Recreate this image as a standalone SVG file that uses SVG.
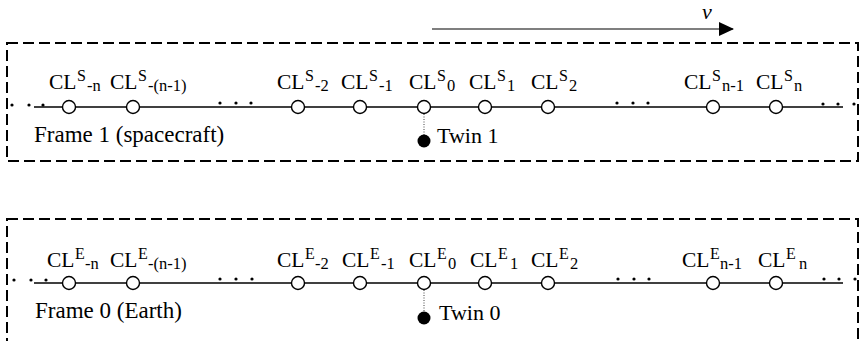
<svg xmlns="http://www.w3.org/2000/svg" width="861" height="341" viewBox="0 0 861 341">
<style>
text { font-family: "Liberation Serif", "Times New Roman", serif; fill: #000; }
.lbl { font-size: 21.5px; }
.sup { font-size: 16px; }
.sub { font-size: 16.5px; }
.cap { font-size: 23px; }
.twt { font-size: 22px; }
.frame { fill: none; stroke: #000; stroke-width: 2; stroke-dasharray: 11 5; }
.axis { stroke: #000; stroke-width: 1.3; fill: none; }
.clock { fill: #fff; stroke: #000; stroke-width: 1.4; }
.dot { fill: #000; }
.twin { fill: #000; }
.tie { stroke: #444; stroke-width: 1; stroke-dasharray: 1 1.5; fill: none; }
.vel { stroke: #555; stroke-width: 1.5; fill: none; }
</style>
<defs>
<marker id="ah" markerWidth="15" markerHeight="14" refX="14" refY="7" orient="auto" markerUnits="userSpaceOnUse">
<path d="M0,0 L15,7 L0,14 Z" fill="#000"/>
</marker>
</defs>

<g id="velocity">
<text x="702" y="19" class="twt" font-style="italic">v</text>
</g>

<g id="frame1">
<rect class="frame" x="7" y="43" width="851" height="118"/>
<text class="cap" x="34" y="142">Frame 1 (spacecraft)</text>
</g>
<g id="frame0">
<rect class="frame" x="7" y="219" width="851" height="150"/>
<text class="cap" x="35" y="317.5">Frame 0 (Earth)</text>
</g>

<g id="connectors">
<line class="vel" x1="432" y1="29" x2="733" y2="29" marker-end="url(#ah)"/>
<line class="axis" x1="34" y1="107" x2="843" y2="107"/>
<line class="axis" x1="34" y1="283" x2="843" y2="283"/>
<line class="tie" x1="424" y1="114" x2="424" y2="135"/>
<line class="tie" x1="424" y1="290" x2="424" y2="312"/>
</g>

<g id="dots-top">
<circle class="dot" cx="12" cy="105" r="1.6"/><circle class="dot" cx="29" cy="105" r="1.6"/><circle class="dot" cx="43" cy="105" r="1.6"/>
<circle class="dot" cx="220" cy="103" r="1.6"/><circle class="dot" cx="236" cy="103" r="1.6"/><circle class="dot" cx="251" cy="103" r="1.6"/>
<circle class="dot" cx="617" cy="103" r="1.6"/><circle class="dot" cx="633" cy="103" r="1.6"/><circle class="dot" cx="648" cy="103" r="1.6"/>
<circle class="dot" cx="823" cy="104" r="1.6"/><circle class="dot" cx="838" cy="104" r="1.6"/><circle class="dot" cx="854" cy="104" r="1.6"/>
</g>
<g id="dots-bottom">
<circle class="dot" cx="14" cy="280" r="1.6"/><circle class="dot" cx="31" cy="280" r="1.6"/><circle class="dot" cx="46" cy="280" r="1.6"/>
<circle class="dot" cx="220" cy="279" r="1.6"/><circle class="dot" cx="236" cy="279" r="1.6"/><circle class="dot" cx="252" cy="279" r="1.6"/>
<circle class="dot" cx="618" cy="279" r="1.6"/><circle class="dot" cx="634" cy="279" r="1.6"/><circle class="dot" cx="649" cy="279" r="1.6"/>
<circle class="dot" cx="824" cy="279" r="1.6"/><circle class="dot" cx="839" cy="279" r="1.6"/><circle class="dot" cx="855" cy="279" r="1.6"/>
</g>

<g id="CLS-n"><circle class="clock" cx="69" cy="107" r="6.5"/><text class="lbl" y="89"><tspan x="49">CL</tspan><tspan class="sup" x="77" dy="-8">S</tspan><tspan class="sub" x="87" dy="10">-n</tspan></text></g>
<g id="CLS-n1"><circle class="clock" cx="133" cy="107" r="6.5"/><text class="lbl" y="89"><tspan x="110">CL</tspan><tspan class="sup" x="138" dy="-8">S</tspan><tspan class="sub" x="148" dy="10">-(n-1)</tspan></text></g>
<g id="CLS-2"><circle class="clock" cx="298" cy="107" r="6.5"/><text class="lbl" y="89"><tspan x="277">CL</tspan><tspan class="sup" x="305" dy="-8">S</tspan><tspan class="sub" x="315" dy="10">-2</tspan></text></g>
<g id="CLS-1"><circle class="clock" cx="360" cy="107" r="6.5"/><text class="lbl" y="89"><tspan x="341">CL</tspan><tspan class="sup" x="369" dy="-8">S</tspan><tspan class="sub" x="379" dy="10">-1</tspan></text></g>
<g id="CLS0"><circle class="clock" cx="424" cy="107" r="6.5"/><text class="lbl" y="89"><tspan x="409">CL</tspan><tspan class="sup" x="437" dy="-8">S</tspan><tspan class="sub" x="447" dy="10">0</tspan></text></g>
<g id="CLS1"><circle class="clock" cx="485" cy="107" r="6.5"/><text class="lbl" y="89"><tspan x="469">CL</tspan><tspan class="sup" x="497" dy="-8">S</tspan><tspan class="sub" x="507" dy="10">1</tspan></text></g>
<g id="CLS2"><circle class="clock" cx="548" cy="107" r="6.5"/><text class="lbl" y="89"><tspan x="531">CL</tspan><tspan class="sup" x="559" dy="-8">S</tspan><tspan class="sub" x="569" dy="10">2</tspan></text></g>
<g id="CLSn-1"><circle class="clock" cx="713" cy="107" r="6.5"/><text class="lbl" y="89"><tspan x="684">CL</tspan><tspan class="sup" x="712" dy="-8">S</tspan><tspan class="sub" x="722" dy="10">n-1</tspan></text></g>
<g id="CLSn"><circle class="clock" cx="776" cy="107" r="6.5"/><text class="lbl" y="89"><tspan x="756">CL</tspan><tspan class="sup" x="784" dy="-8">S</tspan><tspan class="sub" x="794" dy="10">n</tspan></text></g>
<g id="twin1"><circle class="twin" cx="424" cy="141" r="6.5"/><text class="twt" x="437" y="143">Twin 1</text></g>

<g id="CLE-n"><circle class="clock" cx="69" cy="283" r="6.5"/><text class="lbl" y="266.5"><tspan x="47">CL</tspan><tspan class="sup" x="75" dy="-8">E</tspan><tspan class="sub" x="85" dy="10">-n</tspan></text></g>
<g id="CLE-n1"><circle class="clock" cx="133" cy="283" r="6.5"/><text class="lbl" y="266.5"><tspan x="110">CL</tspan><tspan class="sup" x="138" dy="-8">E</tspan><tspan class="sub" x="148" dy="10">-(n-1)</tspan></text></g>
<g id="CLE-2"><circle class="clock" cx="298" cy="283" r="6.5"/><text class="lbl" y="266.5"><tspan x="277">CL</tspan><tspan class="sup" x="305" dy="-8">E</tspan><tspan class="sub" x="315" dy="10">-2</tspan></text></g>
<g id="CLE-1"><circle class="clock" cx="360" cy="283" r="6.5"/><text class="lbl" y="266.5"><tspan x="342">CL</tspan><tspan class="sup" x="370" dy="-8">E</tspan><tspan class="sub" x="381" dy="10">-1</tspan></text></g>
<g id="CLE0"><circle class="clock" cx="424" cy="283" r="6.5"/><text class="lbl" y="266.5"><tspan x="409">CL</tspan><tspan class="sup" x="437" dy="-8">E</tspan><tspan class="sub" x="448" dy="10">0</tspan></text></g>
<g id="CLE1"><circle class="clock" cx="485" cy="283" r="6.5"/><text class="lbl" y="266.5"><tspan x="470">CL</tspan><tspan class="sup" x="498" dy="-8">E</tspan><tspan class="sub" x="510" dy="10">1</tspan></text></g>
<g id="CLE2"><circle class="clock" cx="548" cy="283" r="6.5"/><text class="lbl" y="266.5"><tspan x="531">CL</tspan><tspan class="sup" x="559" dy="-8">E</tspan><tspan class="sub" x="570" dy="10">2</tspan></text></g>
<g id="CLEn-1"><circle class="clock" cx="713" cy="283" r="6.5"/><text class="lbl" y="266.5"><tspan x="682">CL</tspan><tspan class="sup" x="710" dy="-8">E</tspan><tspan class="sub" x="720" dy="10">n-1</tspan></text></g>
<g id="CLEn"><circle class="clock" cx="776" cy="283" r="6.5"/><text class="lbl" y="266.5"><tspan x="758">CL</tspan><tspan class="sup" x="786" dy="-8">E</tspan><tspan class="sub" x="799" dy="10">n</tspan></text></g>
<g id="twin0"><circle class="twin" cx="424" cy="318" r="6.5"/><text class="twt" x="439" y="320">Twin 0</text></g>
</svg>
